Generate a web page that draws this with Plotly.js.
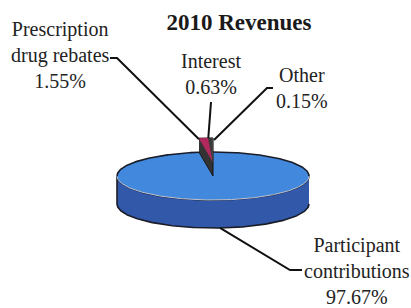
<!DOCTYPE html>
<html>
<head>
<meta charset="utf-8">
<script src="https://cdn.plot.ly/plotly-3.0.1.min.js"></script>
<style>html,body{margin:0;padding:0;background:#fff;}#chart{width:411px;height:308px;}</style>
</head>
<body>
<div id="chart"></div>
<script>
// ---- data ----
const labels = ['Participant contributions', 'Prescription drug rebates', 'Interest', 'Other'];
const labelText = ['Participant<br>contributions<br>97.67%', 'Prescription<br>drug rebates<br>1.55%', 'Interest<br>0.63%', 'Other<br>0.15%'];
const values = [97.67, 1.55, 0.63, 0.15];
const title = '2010 Revenues';

// ---- geometry of the tilted pie (layout) ----
const cx = 213, cy = 176, rx = 96, ry = 24, depth = 28, lift = 14;
const blueTop = 'rgb(66,137,222)', blueSide = 'rgb(50,88,170)', edge = '#1a1c28';
const smallTop = ['rgb(176,40,92)', '#3a3a3a', '#4a4a4a'];

function pt(theta, dy) {
  const r = theta * Math.PI / 180;
  return [cx + rx * Math.sin(r), cy - ry * Math.cos(r) + dy];
}
function arc(a0, a1, dy) {
  const xs = [], ys = [];
  const n = Math.max(2, Math.ceil(Math.abs(a1 - a0)));
  for (let i = 0; i <= n; i++) {
    const p = pt(a0 + (a1 - a0) * i / n, dy);
    xs.push(p[0]); ys.push(p[1]);
  }
  return [xs, ys];
}
const total = values.reduce((a, b) => a + b, 0);
const starts = [], ends = [];
let acc = 0;
values.forEach(v => { starts.push(360 * acc / total); acc += v; ends.push(360 * acc / total); });

const traces = [];
function poly(xs, ys, fill, lineColor, lw) {
  traces.push({type: 'scatter', mode: 'lines', x: xs, y: ys, fill: 'toself', fillcolor: fill,
    line: {color: lineColor || fill, width: lw === undefined ? 1.5 : lw}, hoverinfo: 'skip'});
}
function line(xs, ys, color, lw) {
  traces.push({type: 'scatter', mode: 'lines', x: xs, y: ys, line: {color: color, width: lw}, hoverinfo: 'skip'});
}

// side wall of the big slice (front half)
{
  const a = arc(90, 270, 0), b = arc(270, 90, depth);
  poly(a[0].concat(b[0]), a[1].concat(b[1]), blueSide, edge, 1.6);
}
// top face of the big slice
{
  const a = arc(starts[0], ends[0], 0);
  poly([cx].concat(a[0], [cx]), [cy].concat(a[1], [cy]), blueTop, blueTop, 0);
  const back1 = arc(270, ends[0], 0), back2 = arc(0, 90, 0);
  line(back1[0], back1[1], edge, 1.6);
  line(back2[0], back2[1], edge, 1.6);
  const front = arc(91, 269, 0);
  line(front[0], front[1], 'rgb(190,196,210)', 1);
}
// small raised slices: silhouette of their walls
{
  const a0 = starts[1], a1 = 360;
  const a = arc(a0, a1, -lift);
  const pb = pt(a0, 0);
  poly(a[0].concat([cx, pb[0]]), a[1].concat([cy, pb[1]]), '#333333', '#111', 1);
  for (let i = 1; i < values.length; i++) {
    const t = arc(starts[i], ends[i], -lift);
    poly([cx].concat(t[0], [cx]), [cy - lift].concat(t[1], [cy - lift]), smallTop[i - 1], smallTop[i - 1], 0.5);
  }
}

// leader lines (anchored on slice geometry)
const leaderW = 2, leaderC = '#111';
{
  const p = pt(starts[1], -lift + 1);
  line([110, 117, p[0]], [58, 58, p[1]], leaderC, leaderW);
  const q = pt(starts[2], -lift);
  line([211, q[0]], [102, q[1]], leaderC, leaderW);
  const r = pt(starts[3] + (ends[3] - starts[3]), -lift + 2);
  line([273, 267, r[0] + 1], [88, 88, r[1]], leaderC, leaderW);
  const mid = (starts[0] + ends[0]) / 2;
  const s = pt(mid, depth);
  line([s[0], 290, 302], [s[1], 270, 270], leaderC, leaderW);
}

const font = {family: 'Liberation Serif, Times New Roman, serif', size: 20, color: '#222'};
const annPos = [[357, 271], [60, 55], [211, 74], [302, 88]];
const annotations = labelText.map((t, i) => ({
  text: t, x: annPos[i][0], y: annPos[i][1], xref: 'x', yref: 'y',
  xanchor: 'center', yanchor: 'middle', showarrow: false, align: 'center', font: font
}));

const layout = {
  width: 411, height: 308,
  margin: {l: 0, r: 0, t: 0, b: 0},
  paper_bgcolor: '#fff', plot_bgcolor: '#fff',
  showlegend: false,
  title: {text: '<b>' + title + '</b>', x: 239 / 411, xanchor: 'center', xref: 'paper',
    y: 1 - 22 / 308, yanchor: 'middle', yref: 'container',
    font: {family: 'Liberation Serif, Times New Roman, serif', size: 23, color: '#1a1a1a'}},
  xaxis: {range: [0, 411], visible: false, fixedrange: true},
  yaxis: {range: [308, 0], visible: false, fixedrange: true},
  annotations: annotations
};
Plotly.newPlot('chart', traces, layout, {displayModeBar: false, staticPlot: true});
</script>
</body>
</html>
